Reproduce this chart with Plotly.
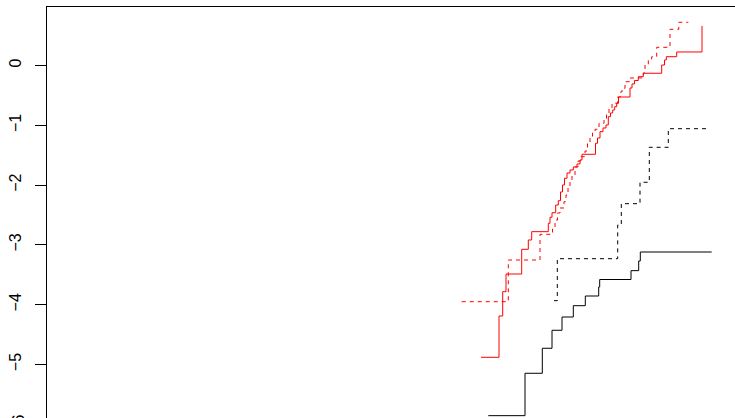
import plotly.graph_objects as go

# Step curves (R "s" style: horizontal first, then vertical)
black_solid_x = [44.13, 47.80, 49.53, 50.50, 51.50, 52.63, 53.83, 55.17, 55.27,
                 58.40, 59.17, 59.33, 66.47]
black_solid_y = [-5.856, -5.147, -4.729, -4.428, -4.206, -4.017, -3.855, -3.704,
                 -3.579, -3.431, -3.269, -3.119, -3.119]

black_dash_x = [50.70, 51.03, 57.07, 57.43, 59.30, 60.23, 62.13, 66.13]
black_dash_y = [-3.933, -3.231, -2.667, -2.311, -1.953, -1.368, -1.057, -1.057]

red_solid_x = [43.40, 45.20, 45.57, 45.90, 47.47, 48.13, 48.47, 50.13, 50.30, 50.50,
               50.87, 51.13, 51.35, 51.55, 51.75, 52.00, 52.30, 52.63, 53.00, 53.30,
               53.50, 54.85, 55.05, 55.30, 55.60, 55.90, 56.13, 56.35, 56.57, 56.77,
               56.97, 57.15, 58.30, 58.50, 58.75, 59.13, 59.63, 61.47, 61.75, 61.93,
               62.97, 65.50]
red_solid_y = [-4.880, -4.189, -3.783, -3.487, -3.074, -2.918, -2.779, -2.639, -2.538,
               -2.462, -2.333, -2.261, -2.115, -1.998, -1.886, -1.798, -1.747, -1.697,
               -1.647, -1.580, -1.485, -1.301, -1.212, -1.107, -1.045, -0.995, -0.856,
               -0.794, -0.744, -0.689, -0.632, -0.527, -0.376, -0.309, -0.251, -0.187,
               -0.130, 0.008, 0.092, 0.147, 0.226, 0.661]

red_dash_x = [41.47, 46.13, 49.30, 50.55, 50.80, 51.05, 51.30, 51.70, 51.90, 52.10,
              52.30, 52.50, 52.80, 53.10, 53.40, 53.80, 54.05, 54.30, 54.55, 54.80,
              55.20, 55.70, 55.95, 56.20, 56.50, 57.05, 57.35, 57.50, 57.80, 58.30,
              59.63, 59.80, 60.13, 60.47, 60.97, 62.30, 63.18, 64.13]
red_dash_y = [-3.950, -3.253, -2.823, -2.734, -2.584, -2.467, -2.383, -2.278, -2.166,
              -2.048, -1.948, -1.831, -1.697, -1.597, -1.525, -1.430, -1.279, -1.196,
              -1.129, -1.067, -0.967, -0.903, -0.811, -0.711, -0.632, -0.527, -0.443,
              -0.381, -0.271, -0.209, -0.125, 0.008, 0.109, 0.147, 0.304, 0.605,
              0.722, 0.722]

y_ticks = [0, -1, -2, -3, -4, -5]
x_range = [0, 68.8]
y_range = [-5.895, 0.978]

series = [
    (black_solid_x, black_solid_y, "black", "solid"),
    (black_dash_x, black_dash_y, "black", "4px,4px"),
    (red_solid_x, red_solid_y, "#ff0000", "solid"),
    (red_dash_x, red_dash_y, "#ff0000", "4px,4px"),
]

fig = go.Figure()
for xs, ys, col, dash in series:
    fig.add_trace(go.Scatter(
        x=xs, y=ys, mode="lines",
        line=dict(color=col, width=1, dash=dash, shape="hv"),
        showlegend=False, hoverinfo="skip",
    ))

font = dict(family="Liberation Sans, Arial, Helvetica, sans-serif", size=16, color="black")

fig.update_layout(
    width=735, height=418,
    margin=dict(l=47, r=0, t=7, b=0, pad=0),
    paper_bgcolor="white", plot_bgcolor="white",
    showlegend=False,
    xaxis=dict(range=x_range, side="top", showline=True, linecolor="black", linewidth=1,
               showgrid=False, zeroline=False, showticklabels=False, ticks=""),
    yaxis=dict(range=y_range, showline=True, linecolor="black", linewidth=1,
               showgrid=False, zeroline=False, ticks="outside", ticklen=11,
               tickwidth=1, tickcolor="black", tickvals=y_ticks,
               ticktext=["0", "\u22121", "\u22122", "\u22123", "\u22124", "\u22125"],
               tickangle=-90, tickfont=font, ticklabelstandoff=8),
)

# label of the -6 tick, which falls just below the visible plotting region
fig.add_annotation(
    text="\u22126", textangle=-90, showarrow=False, font=font,
    xref="paper", x=0, xanchor="right", xshift=-18,
    yref="paper", y=(-6 - y_range[0]) / (y_range[1] - y_range[0]), yanchor="middle",
)

fig.write_html("out.html")
